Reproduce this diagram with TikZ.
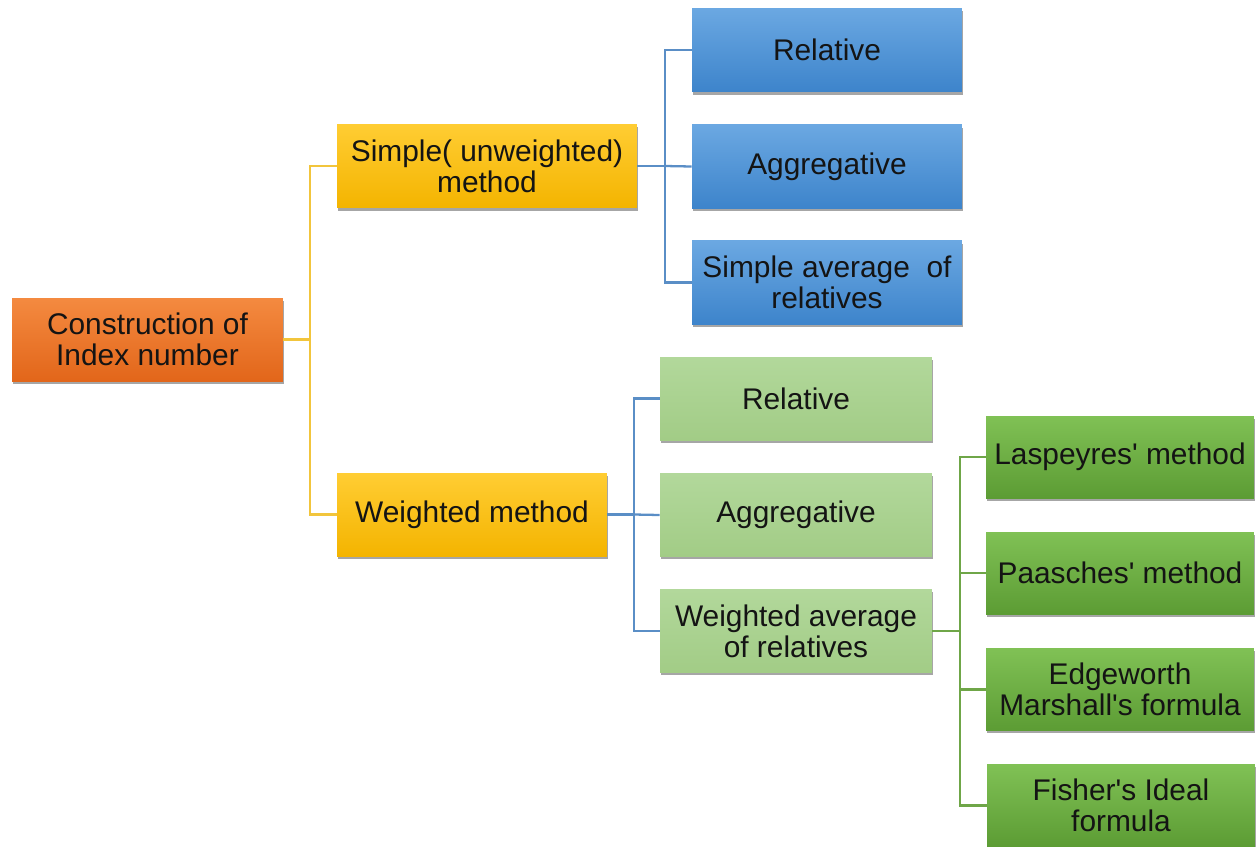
\documentclass[tikz,border=0pt]{standalone}
\usepackage{fontspec}
\setmainfont{Liberation Sans}
\usetikzlibrary{shadows}
\definecolor{orA}{HTML}{F48A40}
\definecolor{orB}{HTML}{E2661A}
\definecolor{yeA}{HTML}{FFCD33}
\definecolor{yeB}{HTML}{F4B400}
\definecolor{blA}{HTML}{6BA8E2}
\definecolor{blB}{HTML}{3D84CB}
\definecolor{lgA}{HTML}{B2D89B}
\definecolor{lgB}{HTML}{A2CC86}
\definecolor{dgA}{HTML}{80C155}
\definecolor{dgB}{HTML}{5C9C34}
\definecolor{lnY}{HTML}{F2C53C}
\definecolor{lnB}{HTML}{5A8EC6}
\definecolor{lnG}{HTML}{6FA648}
\newcommand{\apos}{\textquotesingle}
\tikzset{
  box/.style={inner sep=0pt, align=center, font=\fontsize{17}{17.5}\selectfont,
    text=black!92, drop shadow={shadow xshift=0.6pt, shadow yshift=-1.6pt, opacity=0.35, fill=black}},
  orbox/.style={box, top color=orA, bottom color=orB, minimum width=5.42cm, minimum height=1.66cm},
  yebox/.style={box, top color=yeA, bottom color=yeB, minimum height=1.68cm},
  blbox/.style={box, top color=blA, bottom color=blB, minimum width=5.4cm, minimum height=1.67cm},
  lgbox/.style={box, top color=lgA, bottom color=lgB, minimum width=5.44cm, minimum height=1.66cm},
  dgbox/.style={box, top color=dgA, bottom color=dgB, minimum width=5.36cm, minimum height=1.64cm},
  lineY/.style={draw=lnY, line width=1.3pt},
  lineB/.style={draw=lnB, line width=1.3pt},
  lineG/.style={draw=lnG, line width=1.3pt},
}
\begin{document}
\begin{tikzpicture}[x=0.02cm, y=-0.02cm]
\useasboundingbox (0,0) rectangle (1258,846);
% nodes
\node[orbox] (root) at (147.5,339.5) {Construction of\\Index number};
\node[yebox, minimum width=6.0cm] (simple) at (487,166) {Simple( unweighted)\\method};
\node[yebox, minimum width=5.4cm, minimum height=1.66cm] (weighted) at (472,514.5) {Weighted method};
\node[blbox] (b1) at (827,50) {Relative};
\node[blbox] (b2) at (827,166.5) {Aggregative};
\node[blbox] (b3) at (827,282.5) {Simple average\ \ of\\relatives};
\node[lgbox] (g1) at (796,398.5) {Relative};
\node[lgbox] (g2) at (796,515) {Aggregative};
\node[lgbox] (g3) at (796,631) {Weighted average\\of relatives};
\node[dgbox] (d1) at (1120,457) {Laspeyres\apos\ method};
\node[dgbox] (d2) at (1120,573) {Paasches\apos\ method};
\node[dgbox] (d3) at (1120,689.5) {Edgeworth\\Marshall\apos s formula};
\node[dgbox] (d4) at (1121,805.5) {Fisher\apos s Ideal\\formula};
% connectors
\coordinate (jr) at (310,339.5);
\draw[lineY] (root.east) -- (jr);
\draw[lineY] (jr) |- (simple.west);
\draw[lineY] (jr) |- (weighted.west);
\coordinate (js) at (665,166);
\draw[lineB] (simple.east) -- (js);
\draw[lineB] (js) |- (b1.west);
\draw[lineB] (js) -- (b2.west);
\draw[lineB] (js) |- (b3.west);
\coordinate (jw) at (634,514.5);
\draw[lineB] (weighted.east) -- (jw);
\draw[lineB] (jw) |- (g1.west);
\draw[lineB] (jw) -- (g2.west);
\draw[lineB] (jw) |- (g3.west);
\coordinate (jg) at (960,631);
\draw[lineG] (g3.east) -- (jg);
\draw[lineG] (jg) |- (d1.west);
\draw[lineG] (jg) |- (d2.west);
\draw[lineG] (jg) |- (d3.west);
\draw[lineG] (jg) |- (d4.west);
\end{tikzpicture}
\end{document}
